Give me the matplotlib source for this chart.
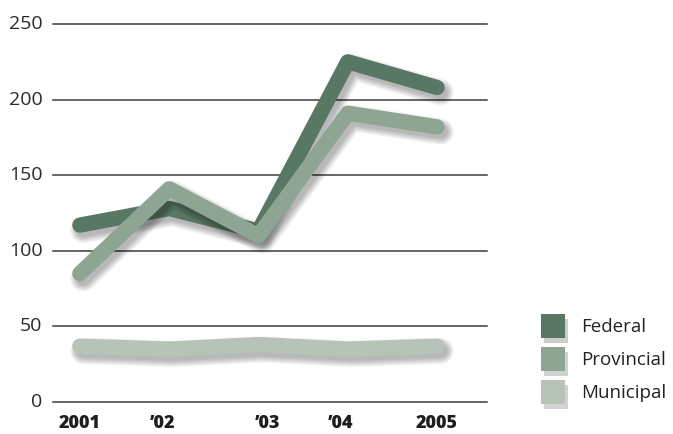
import matplotlib.pyplot as plt
import matplotlib.patheffects as pe
from matplotlib.patches import Rectangle

# spending by level of government
years = ["2001", "\u201902", "\u201903", "\u201904", "2005"]
federal = [117, 128, 113, 225, 208]
provincial = [85, 141, 110, 191, 182]
municipal = [37, 35, 38, 35, 37]

series_names = ["Federal", "Provincial", "Municipal"]
colors = ["#587764", "#8fa593", "#b7c3b9"]
y_ticks = [0, 50, 100, 150, 200, 250]
# label positions along the axis (slightly off the data points)
label_x = [0.0, 0.93, 2.1, 2.92, 4.0]


def soft_shadow(lw):
    # stack offset shadows of growing width to fake a blur
    effects = []
    for extra in [8, 6.5, 5, 3.5, 2, 0.5, -1]:
        effects.append(pe.SimpleLineShadow(offset=(2.5, -3.5), shadow_color="black",
                                           alpha=0.045, linewidth=lw + extra))
    effects.append(pe.Normal())
    return effects


fig = plt.figure(figsize=(6.73, 4.34), dpi=100)
ax = fig.add_axes([0.0788, 0.0737, 0.645, 0.871])

x = list(range(len(years)))
ax.set_xlim(-0.30, 4.56)
ax.set_ylim(0, 250)

for t in y_ticks:
    ax.axhline(t, color="#3a3a3a", lw=1.1, zorder=1, clip_on=False)
    ax.text(-0.42, t, str(t), ha="right", va="center", fontsize=14,
            color="#2a2a2a", family="Open Sans")

lw = 11
for vals, c, z in [(municipal, colors[2], 3), (federal, colors[0], 4), (provincial, colors[1], 5)]:
    ax.plot(x, vals, color=c, lw=lw, solid_capstyle="round", solid_joinstyle="round",
            zorder=z, path_effects=soft_shadow(lw))

for lx, lab in zip(label_x, years):
    ax.text(lx, -14, lab, ha="center", va="center", fontsize=13, fontweight="heavy",
            color="#1e1e1e", family="Open Sans")

for s in ax.spines.values():
    s.set_visible(False)
ax.set_xticks([])
ax.set_yticks([])

# legend swatches
W, H = 673, 434
for i, (name, c) in enumerate(zip(series_names, colors)):
    top = 314 + i * 33
    r = Rectangle((541 / W, 1 - (top + 24) / H), 24 / W, 24 / H, transform=fig.transFigure,
                  facecolor=c, edgecolor="none",
                  path_effects=[pe.SimplePatchShadow(offset=(2.5, -3.5), alpha=0.22), pe.Normal()])
    fig.patches.append(r)
    fig.text(581 / W, 1 - (top + 13) / H, name, ha="left", va="center", fontsize=13.5,
             color="#222222", family="Open Sans")

fig.savefig("out.png", dpi=100)
